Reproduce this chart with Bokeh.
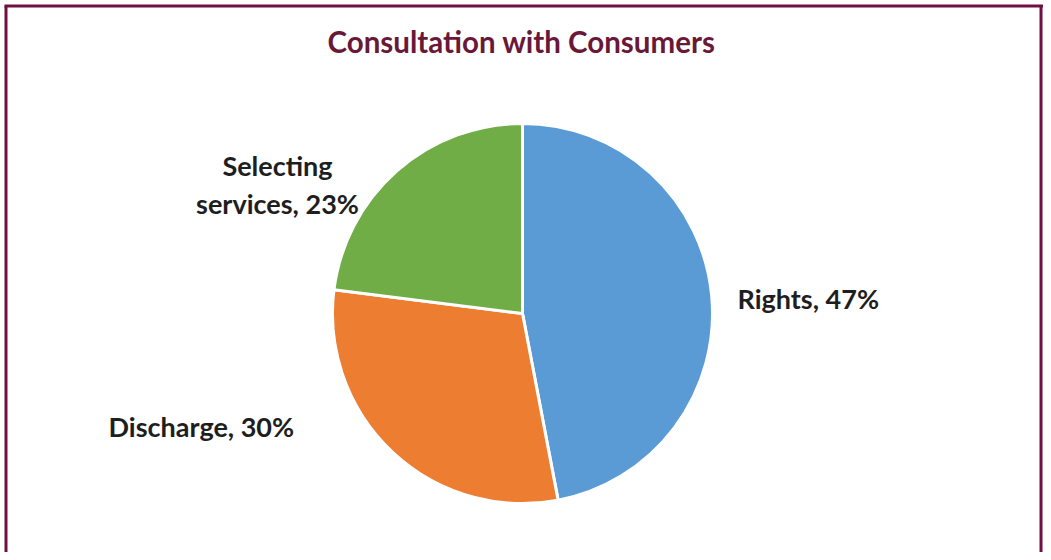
import math
from bokeh.plotting import figure
from bokeh.models import Range1d, ColumnDataSource
from bokeh.core.properties import value
from bokeh.embed import file_html
from bokeh.resources import INLINE

# ---- data ----
categories = ["Rights", "Discharge", "Selecting services"]
percents = [47, 30, 23]
colors = ["#5b9bd5", "#ed7d31", "#70ad47"]
label_texts = ["Rights, 47%", "Discharge, 30%", "Selecting\nservices, 23%"]
title_text = "Consultation with Consumers"

W, H = 1043, 552
p = figure(width=W, height=H, output_backend="svg", toolbar_location=None,
           x_range=Range1d(0, W), y_range=Range1d(0, H),
           x_axis_type=None, y_axis_type=None, min_border=0)
p.grid.visible = False
p.outline_line_color = None
p.background_fill_color = "white"
p.border_fill_color = "white"

def Y(py):
    return H - py

# wedges
total = sum(percents)
starts, ends = [], []
cum = 0.0
for v in percents:
    starts.append(math.pi / 2 - cum / total * 2 * math.pi)
    cum += v
    ends.append(math.pi / 2 - cum / total * 2 * math.pi)

cx, cy, r = 522, Y(313), 190
src = ColumnDataSource(dict(start=starts, end=ends, color=colors, cat=categories))
p.wedge(x=cx, y=cy, radius=r, start_angle="start", end_angle="end",
        direction="clock", fill_color="color", line_color="white",
        line_width=3, source=src)

# labels
lbl = ColumnDataSource(dict(
    x=[737, 108, 277],
    y=[Y(298), Y(426), Y(184)],
    text=label_texts,
    align=["left", "left", "center"],
))
p.text(x="x", y="y", text="text", source=lbl, text_align="align",
       text_baseline="middle", text_font=value("Lato"), text_font_style="bold",
       text_font_size="27px", text_color="#1e1e1e", text_line_height=1.15)

# title
p.text(x=[521], y=[Y(41)], text=[title_text], text_align="center",
       text_baseline="middle", text_font=value("Lato"), text_font_style="bold",
       text_font_size="29.5px", text_color="#6a1838")

# border (left, top, right)
p.multi_line(xs=[[5.5, 5.5], [4, 1043], [1040.5, 1040.5]],
             ys=[[0, Y(5.5)], [Y(5.5), Y(5.5)], [0, Y(5.5)]],
             line_color="#6e1040", line_width=3)

open("out.html", "w").write(file_html(p, INLINE))
